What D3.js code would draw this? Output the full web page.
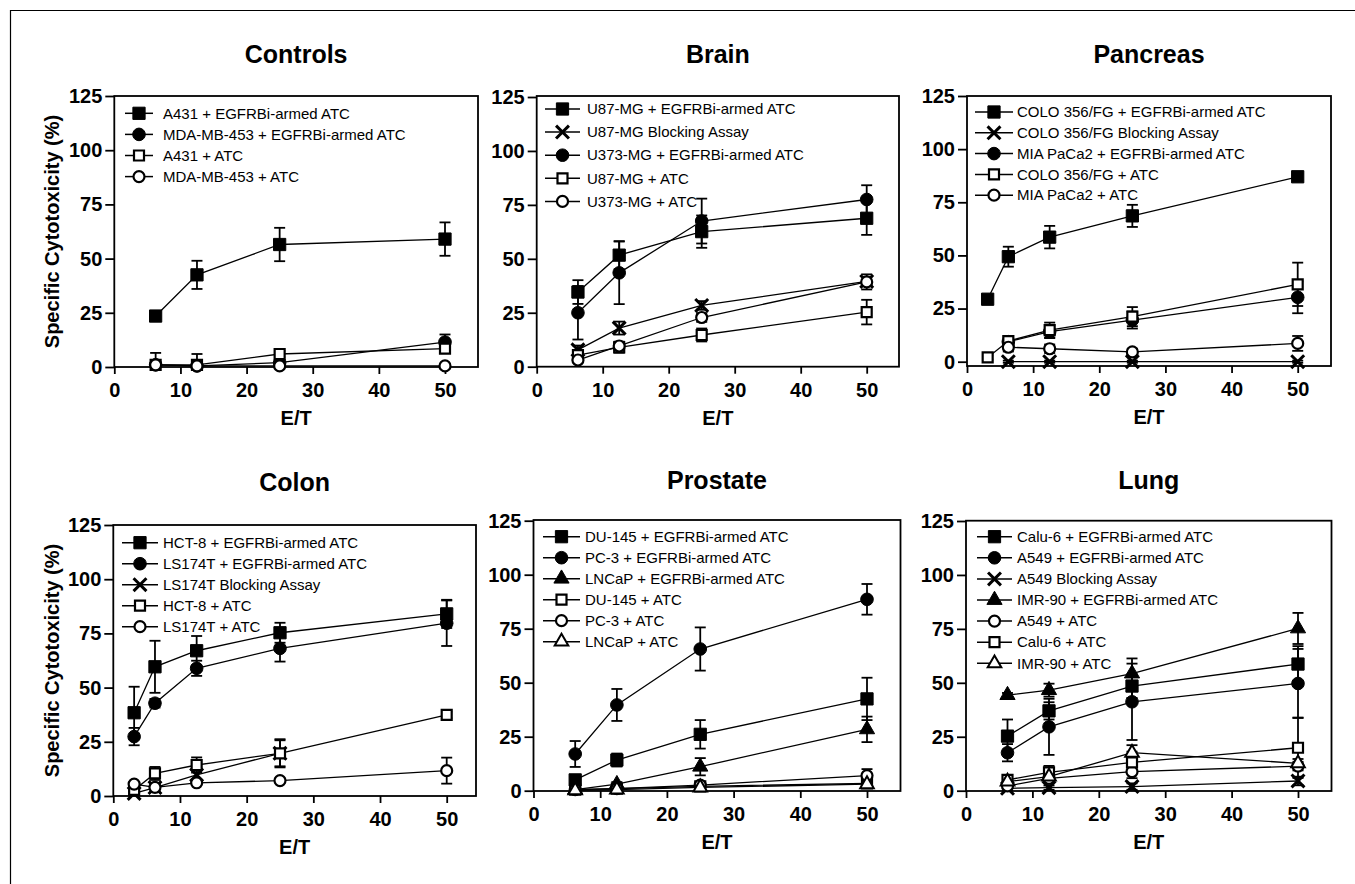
<!DOCTYPE html>
<html>
<head>
<meta charset="utf-8">
<script src="https://cdn.jsdelivr.net/npm/d3@7"></script>
<style>
  body { margin: 0; background: #fff; }
  text { font-family: Arial, "Liberation Sans", sans-serif; fill: #000; }
</style>
</head>
<body>
<div id="chart"></div>
<script>
// effector / target ratios
var etFour = [6.25, 12.5, 25, 50];
var etFive = [3.125, 6.25, 12.5, 25, 50];
var yTicks = [0, 25, 50, 75, 100, 125];
var xTicks = [0, 10, 20, 30, 40, 50];

// Controls
var controlsLabels = ["A431 + EGFRBi-armed ATC", "MDA-MB-453 + EGFRBi-armed ATC", "A431 + ATC", "MDA-MB-453 + ATC"];
var controlsMean = [[23.5, 42.5, 56.5, 59], [1, 0.5, 2, 11.5], [1, 1, 6, 8.5], [1, 0.5, 0.5, 0.5]];
var controlsErr = [[1.5, 6.5, 7.7, 7.7], [1, 1, 1, 3.5], [5.5, 5, 1.5, 2], [1, 1, 0.5, 0.5]];

// Brain
var brainLabels = ["U87-MG + EGFRBi-armed ATC", "U87-MG Blocking Assay", "U373-MG + EGFRBi-armed ATC", "U87-MG + ATC", "U373-MG + ATC"];
var brainMean = [[34.6, 51.7, 62.6, 68.8], [7.8, 17.9, 28.4, 39.5], [25, 43.5, 67.5, 77.5], [5.4, 9, 14.7, 25.3], [3.1, 9.6, 22.8, 39.3]];
var brainErr = [[5.5, 6.5, 7.5, 7.7], [2, 3, 2, 2], [12.4, 14.5, 10.4, 6.6], [2, 2.5, 3, 5.7], [1, 2, 2, 3.5]];

// Pancreas
var pancreasLabels = ["COLO 356/FG + EGFRBi-armed ATC", "COLO 356/FG Blocking Assay", "MIA PaCa2 + EGFRBi-armed ATC", "COLO 356/FG + ATC", "MIA PaCa2 + ATC"];
var pancreasMean = [[29.4, 49.4, 58.6, 68.6, 87], [null, 0, 0, 0, 0], [null, 9.4, 14.1, 19.6, 30.3], [2, 9.7, 14.9, 21.2, 36.4], [null, 6.8, 6.1, 4.6, 8.6]];
var pancreasErr = [[1.5, 4.7, 5.3, 5.2, 1.5], [null, 0.5, 0.5, 0.5, 0.5], [null, 1.5, 3, 4, 7.5], [1, 2, 3.5, 4.5, 10.2], [null, 2, 2, 1.5, 3.5]];

// Colon
var colonLabels = ["HCT-8 + EGFRBi-armed ATC", "LS174T + EGFRBi-armed ATC", "LS174T Blocking Assay", "HCT-8 + ATC", "LS174T + ATC"];
var colonMean = [[38.4, 59.6, 67, 75.3, 84], [27.4, 42.8, 58.9, 68.1, 79.7], [1.2, 3.9, 9.7, 19.7, null], [2.8, 10.4, 14.3, 19.7, 37.4], [5.5, 4, 6.1, 7.1, 11.7]];
var colonErr = [[12, 12, 6.8, 4.6, 6.5], [4, 2, 3.5, 6.1, 10.5], [1, 2, 2, 6, null], [1.5, 3, 3.5, 6.5, 1.5], [1, 1, 1, 1, 6]];

// Prostate
var prostateLabels = ["DU-145 + EGFRBi-armed ATC", "PC-3 + EGFRBi-armed ATC", "LNCaP + EGFRBi-armed ATC", "DU-145 + ATC", "PC-3 + ATC", "LNCaP + ATC"];
var prostateMean = [[5, 14.2, 26.1, 42.5], [17, 39.7, 65.6, 88.6], [0.5, 3, 11.1, 28.4], [0.5, 1, 2, 3.4], [0.5, 1, 2.6, 7], [0.2, 0.5, 1.5, 3]];
var prostateErr = [[1.5, 3, 6.6, 9.8], [6, 7.4, 10, 7.1], [0.5, 1, 4, 5.9], [0.5, 0.5, 1, 1.5], [0.5, 0.5, 1, 3], [0.3, 0.5, 1, 1.5]];

// Lung
var lungLabels = ["Calu-6 + EGFRBi-armed ATC", "A549 + EGFRBi-armed ATC", "A549 Blocking Assay", "IMR-90 + EGFRBi-armed ATC", "A549 + ATC", "Calu-6 + ATC", "IMR-90 + ATC"];
var lungMean = [[25.3, 37, 48.5, 58.7], [17.6, 29.6, 41.2, 49.7], [1.1, 1.4, 1.9, 4.5], [44.3, 46.6, 54.3, 75.2], [2.2, 5.7, 8.8, 11.4], [5, 8.5, 13.1, 19.9], [4.2, 6.5, 17.6, 12.7]];
var lungErr = [[7.7, 4, 5.5, 8.3], [4, 13, 17.7, 16], [1, 1, 1.5, 2], [1, 3, 7, 7.2], [1, 2, 3, 2], [2, 3, 5, 14], [2, 2, 3.5, 2]];

// marker style for each series (style only)
var controlsMarks = ["sqF", "circF", "sqO", "circO"];
var brainMarks = ["sqF", "x", "circF", "sqO", "circO"];
var pancreasMarks = ["sqF", "x", "circF", "sqO", "circO"];
var colonMarks = ["sqF", "circF", "x", "sqO", "circO"];
var prostateMarks = ["sqF", "circF", "triF", "sqO", "circO", "triO"];
var lungMarks = ["sqF", "circF", "x", "triF", "circO", "sqO", "triO"];

var width = 1355, height = 884;

var svg = d3.select("#chart")
  .append("svg")
    .attr("width", width)
    .attr("height", height);

// outer frame (top and left edges visible)
svg.append("path")
  .attr("d", "M10.5,884 V10.5 H1355")
  .attr("fill", "none")
  .attr("stroke", "#000")
  .attr("stroke-width", 1.2);

var panels = [
  { title: "Controls", et: etFour, labels: controlsLabels, mean: controlsMean, err: controlsErr, marks: controlsMarks,
    x0: 114.3, x50: 445, right: 478, y0: 367, y125: 96, top: 96, axisY: 367, titleY: 63, ylab: true,
    lg: { y: 113.3, dy: 21.1, l1: 125, l2: 153, tx: 163 } },
  { title: "Brain", et: etFour, labels: brainLabels, mean: brainMean, err: brainErr, marks: brainMarks,
    x0: 536.7, x50: 866.7, right: 899, y0: 366.7, y125: 97, top: 96, axisY: 366.7, titleY: 63, ylab: false,
    lg: { y: 109, dy: 23.1, l1: 545, l2: 580, tx: 587 } },
  { title: "Pancreas", et: etFive, labels: pancreasLabels, mean: pancreasMean, err: pancreasErr, marks: pancreasMarks,
    x0: 967, x50: 1297.7, right: 1331, y0: 361.7, y125: 96, top: 96, axisY: 366, titleY: 63, ylab: false,
    lg: { y: 112, dy: 20.8, l1: 975, l2: 1013, tx: 1017 } },
  { title: "Colon", et: etFive, labels: colonLabels, mean: colonMean, err: colonErr, marks: colonMarks,
    x0: 113.3, x50: 446.7, right: 476, y0: 796, y125: 525, top: 525, axisY: 796, titleY: 491, ylab: true,
    lg: { y: 542.7, dy: 21, l1: 122, l2: 158, tx: 163 } },
  { title: "Prostate", et: etFour, labels: prostateLabels, mean: prostateMean, err: prostateErr, marks: prostateMarks,
    x0: 533.5, x50: 867, right: 900.5, y0: 790.7, y125: 520.7, top: 520, axisY: 791, titleY: 489, ylab: false,
    lg: { y: 536.7, dy: 21, l1: 543, l2: 580, tx: 585 } },
  { title: "Lung", et: etFour, labels: lungLabels, mean: lungMean, err: lungErr, marks: lungMarks,
    x0: 966, x50: 1298, right: 1331.5, y0: 790.7, y125: 521, top: 520.7, axisY: 791, titleY: 489, ylab: false,
    lg: { y: 536.7, dy: 21.1, l1: 977, l2: 1012, tx: 1017 } }
];

function markStyle(m) {
  if (m == "sqF") return { type: d3.symbolSquare, size: 150, fill: "#000", stroke: "#000", sw: 1 };
  if (m == "sqO") return { type: d3.symbolSquare, size: 100, fill: "#fff", stroke: "#000", sw: 2.2 };
  if (m == "circF") return { type: d3.symbolCircle, size: 125, fill: "#000", stroke: "#000", sw: 1 };
  if (m == "circO") return { type: d3.symbolCircle, size: 95, fill: "#fff", stroke: "#000", sw: 2.2 };
  if (m == "triF") return { type: d3.symbolTriangle, size: 100, fill: "#000", stroke: "#000", sw: 1 };
  if (m == "triO") return { type: d3.symbolTriangle, size: 80, fill: "#fff", stroke: "#000", sw: 2 };
  return { type: d3.symbolX, size: 110, fill: "none", stroke: "#000", sw: 3 };
}

function drawMark(g, m, cx, cy) {
  var s = markStyle(m);
  g.append("path")
    .attr("d", d3.symbol().type(s.type).size(s.size)())
    .attr("transform", "translate(" + cx + "," + cy + ")")
    .attr("fill", s.fill)
    .attr("stroke", s.stroke)
    .attr("stroke-width", s.sw);
}

panels.forEach(function(p) {
  var x = d3.scaleLinear().domain([0, 50]).range([p.x0, p.x50]);
  var y = d3.scaleLinear().domain([0, 125]).range([p.y0, p.y125]);
  var g = svg.append("g");

  // plot frame
  g.append("rect")
    .attr("x", p.x0).attr("y", p.top)
    .attr("width", p.right - p.x0).attr("height", p.axisY - p.top)
    .attr("fill", "none")
    .attr("stroke", "#000")
    .attr("stroke-width", 1.8);

  // axes
  var ax = g.append("g")
    .attr("transform", "translate(0," + p.axisY + ")")
    .call(d3.axisBottom(x).tickValues(xTicks).tickSize(7).tickSizeOuter(0).tickPadding(9));
  var ay = g.append("g")
    .attr("transform", "translate(" + p.x0 + ",0)")
    .call(d3.axisLeft(y).tickValues(yTicks).tickSize(9).tickSizeOuter(0).tickPadding(3));
  [ax, ay].forEach(function(a) {
    a.select(".domain").remove();
    a.selectAll("line").attr("stroke", "#000").attr("stroke-width", 1.8);
    a.selectAll("text")
      .attr("fill", "#000")
      .style("font-family", "Arial, 'Liberation Sans', sans-serif")
      .style("font-size", "20px")
      .style("font-weight", "bold");
  });

  // titles
  g.append("text")
    .attr("x", (p.x0 + p.right) / 2).attr("y", p.titleY)
    .attr("text-anchor", "middle")
    .style("font-size", "25px").style("font-weight", "bold")
    .text(p.title);

  g.append("text")
    .attr("x", (p.x0 + p.right) / 2).attr("y", p.axisY + 58)
    .attr("text-anchor", "middle")
    .style("font-size", "20px").style("font-weight", "bold")
    .text("E/T");

  if (p.ylab) {
    g.append("text")
      .attr("transform", "translate(59," + ((p.y0 + p.y125) / 2) + ") rotate(-90)")
      .attr("text-anchor", "middle")
      .style("font-size", "20px").style("font-weight", "bold")
      .text("Specific Cytotoxicity (%)");
  }

  // series
  p.mean.forEach(function(vals, i) {
    var pts = [];
    vals.forEach(function(v, j) {
      if (v != null) pts.push({ et: p.et[j], v: v, e: p.err[i][j] });
    });

    // error bars
    pts.forEach(function(d) {
      var hi = y(d.v + d.e), lo = y(Math.max(d.v - d.e, y.invert(p.axisY)));
      var cx = x(d.et);
      g.append("line").attr("x1", cx).attr("x2", cx).attr("y1", hi).attr("y2", lo)
        .attr("stroke", "#000").attr("stroke-width", 1.8);
      [hi, lo].forEach(function(yy) {
        g.append("line").attr("x1", cx - 5.5).attr("x2", cx + 5.5).attr("y1", yy).attr("y2", yy)
          .attr("stroke", "#000").attr("stroke-width", 1.8);
      });
    });

    g.append("path")
      .datum(pts)
      .attr("fill", "none")
      .attr("stroke", "#000")
      .attr("stroke-width", 1.3)
      .attr("d", d3.line().x(function(d) { return x(d.et); }).y(function(d) { return y(d.v); }));
  });

  // markers on top
  p.mean.forEach(function(vals, i) {
    vals.forEach(function(v, j) {
      if (v != null) drawMark(g, p.marks[i], x(p.et[j]), y(v));
    });
  });

  // legend
  p.labels.forEach(function(lab, i) {
    var ly = p.lg.y + i * p.lg.dy;
    g.append("line")
      .attr("x1", p.lg.l1).attr("x2", p.lg.l2).attr("y1", ly).attr("y2", ly)
      .attr("stroke", "#000").attr("stroke-width", 1.5);
    drawMark(g, p.marks[i], (p.lg.l1 + p.lg.l2) / 2, ly);
    g.append("text")
      .attr("x", p.lg.tx).attr("y", ly)
      .attr("dy", "0.35em")
      .style("font-size", "15px")
      .text(lab);
  });
});
</script>
</body>
</html>
